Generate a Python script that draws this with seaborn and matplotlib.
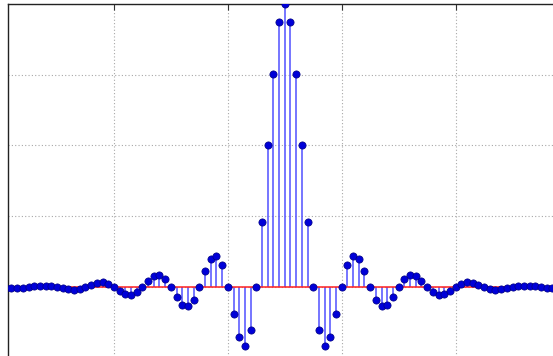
import numpy as np
import pandas as pd
import matplotlib
matplotlib.use("Agg")
import matplotlib.pyplot as plt
import seaborn as sns

# Sample index, centred on the main lobe
n = list(range(-50, 51))

# Right half of the windowed impulse response (n = 0 .. 50); the left half mirrors it
half = [
    1.000, 0.935, 0.754, 0.500, 0.230, 0.000, -0.151, -0.207, -0.178, -0.096,
    0.000, 0.076, 0.110, 0.100, 0.056, 0.000, -0.046, -0.068, -0.062, -0.035,
    0.000, 0.029, 0.043, 0.039, 0.022, 0.000, -0.018, -0.027, -0.025, -0.014,
    0.000, 0.011, 0.016, 0.015, 0.008, 0.000, -0.006, -0.009, -0.008, -0.004,
    0.000, 0.003, 0.005, 0.004, 0.002, 0.000, -0.002, -0.003, -0.003, -0.002,
    0.000,
]
values = half[:0:-1] + half

grid_x = [-30, -10, 10, 30, 50]
grid_y = [0.0, 0.25, 0.5, 0.75, 1.0]

df = pd.DataFrame({"n": n, "value": values})

sns.set_style("white")

fig = plt.figure(figsize=(5.53, 3.56), dpi=100)
W, H = 553.0, 356.0
# axes box in pixels: left 8, top 4; right and bottom run past the canvas
left_px, top_px, right_px, bottom_px = 8.0, 4.0, 569.5, 357.75
ax = fig.add_axes([left_px / W, 1 - bottom_px / H,
                   (right_px - left_px) / W, (bottom_px - top_px) / H])

ax.set_xlim(-48.6, 50)
ax.set_ylim(-0.25, 1.0)

ax.set_xticks(grid_x)
ax.set_yticks(grid_y)
ax.grid(True, color="#a8a8a8", linestyle=(0, (1, 2)), linewidth=0.8)
ax.set_axisbelow(True)

# stems
ax.vlines(df["n"], 0, df["value"], color="#5050ff", linewidth=1.1, zorder=2)
# baseline
ax.axhline(0, color="#ff2020", linewidth=1.1, zorder=3)
# stem heads
sns.scatterplot(data=df, x="n", y="value", ax=ax, s=27, color="#0000d8",
                edgecolor="#000080", linewidth=0.5, zorder=4, legend=False)

ax.set_xlabel("")
ax.set_ylabel("")
ax.tick_params(axis="x", which="both", direction="in", length=4, top=True,
               bottom=False, labelbottom=False, labeltop=False, color="#333333")
ax.tick_params(axis="y", which="both", left=False, right=False,
               labelleft=False, labelright=False)
for side in ["left", "top"]:
    ax.spines[side].set_visible(True)
    ax.spines[side].set_color("#222222")
    ax.spines[side].set_linewidth(1.0)

fig.savefig("out.png", dpi=100)
